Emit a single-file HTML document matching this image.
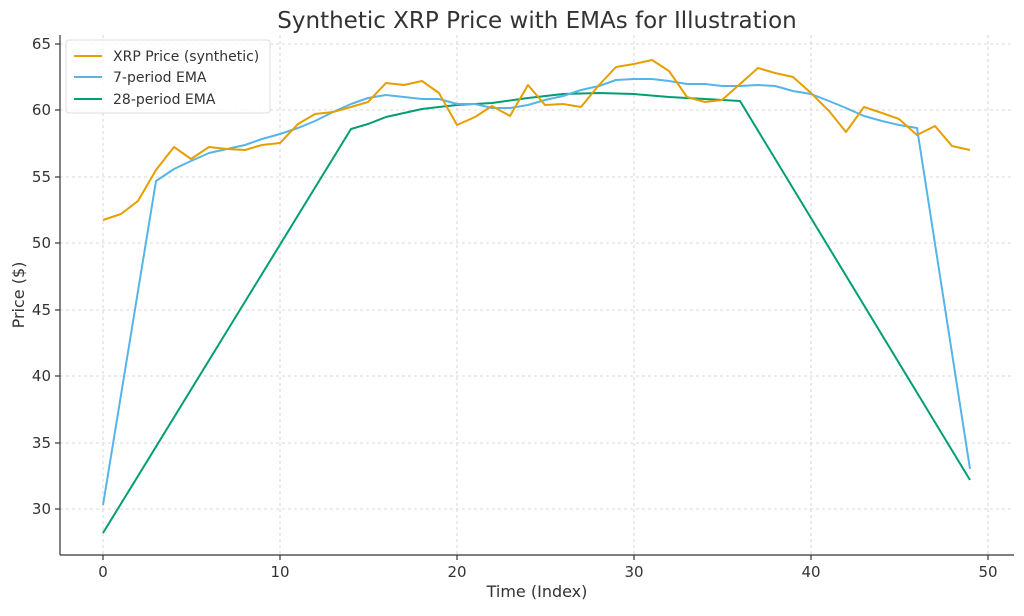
<!DOCTYPE html>
<html><head><meta charset="utf-8"><style>body{margin:0;background:#fff}svg text{font-family:"DejaVu Sans","Liberation Sans",sans-serif;fill:#333}</style></head><body>
<svg width="1024" height="611" xmlns="http://www.w3.org/2000/svg">
<rect width="1024" height="611" fill="#fff"/>
<g stroke="#ccc" stroke-dasharray="3,3" stroke-width="0.8">
<line x1="103" y1="35" x2="103" y2="555"/><line x1="280" y1="35" x2="280" y2="555"/><line x1="457" y1="35" x2="457" y2="555"/><line x1="634" y1="35" x2="634" y2="555"/><line x1="811" y1="35" x2="811" y2="555"/><line x1="988" y1="35" x2="988" y2="555"/>
<line x1="60" y1="44" x2="1014" y2="44"/><line x1="60" y1="110" x2="1014" y2="110"/><line x1="60" y1="177" x2="1014" y2="177"/><line x1="60" y1="243" x2="1014" y2="243"/><line x1="60" y1="310" x2="1014" y2="310"/><line x1="60" y1="376" x2="1014" y2="376"/><line x1="60" y1="443" x2="1014" y2="443"/><line x1="60" y1="509" x2="1014" y2="509"/>
</g>
<g stroke="#333" stroke-width="1.2"><line x1="60" y1="35" x2="60" y2="555"/><line x1="60" y1="555" x2="1014" y2="555"/>
<line x1="103" y1="555" x2="103" y2="560"/><line x1="280" y1="555" x2="280" y2="560"/><line x1="457" y1="555" x2="457" y2="560"/><line x1="634" y1="555" x2="634" y2="560"/><line x1="811" y1="555" x2="811" y2="560"/><line x1="988" y1="555" x2="988" y2="560"/>
<line x1="55" y1="44" x2="60" y2="44"/><line x1="55" y1="110" x2="60" y2="110"/><line x1="55" y1="177" x2="60" y2="177"/><line x1="55" y1="243" x2="60" y2="243"/><line x1="55" y1="310" x2="60" y2="310"/><line x1="55" y1="376" x2="60" y2="376"/><line x1="55" y1="443" x2="60" y2="443"/><line x1="55" y1="509" x2="60" y2="509"/></g>
<g font-size="15" text-anchor="middle"><text x="103" y="577">0</text><text x="280" y="577">10</text><text x="457" y="577">20</text><text x="634" y="577">30</text><text x="811" y="577">40</text><text x="988" y="577">50</text></g>
<g font-size="15" text-anchor="end"><text x="51" y="49">65</text><text x="51" y="115">60</text><text x="51" y="182">55</text><text x="51" y="248">50</text><text x="51" y="315">45</text><text x="51" y="381">40</text><text x="51" y="448">35</text><text x="51" y="514">30</text></g>
<text x="537" y="597" font-size="16" text-anchor="middle">Time (Index)</text>
<text x="24" y="295" font-size="16" text-anchor="middle" transform="rotate(-90 24 295)">Price ($)</text>
<text x="537" y="28" font-size="23" text-anchor="middle">Synthetic XRP Price with EMAs for Illustration</text>
<g fill="none" stroke-width="2" stroke-linejoin="round">
<polyline stroke="#009e73" points="103,533 351,129 368,124 386,117 404,113 422,109 439,107 457,105 492,103 528,98 563,94 599,93 634,94 669,97 705,99 740,101 970,480"/>
<polyline stroke="#56b4e9" points="103,505 156,181 174,169 191,161 209,153 227,149 245,145 262,139 280,134 298,128 315,121 333,112 351,104 368,98 386,95 404,97 422,99 439,99 457,104 475,104 492,108 510,108 528,105 545,100 563,96 581,90 599,86 616,80 634,79 652,79 669,81 687,84 705,84 722,86 740,86 758,85 775,86 793,91 811,94 829,101 846,108 864,116 882,121 899,125 917,128 970,469"/>
<polyline stroke="#e69f00" points="103,220 121,214 138,201 156,170 174,147 191,159 209,147 227,149 245,150 262,145 280,143 298,124 315,114 333,112 351,107 368,102 386,83 404,85 422,81 439,93 457,125 475,117 492,106 510,116 528,85 545,105 563,104 581,107 599,85 616,67 634,64 652,60 669,71 687,97 705,102 722,100 740,84 758,68 775,73 793,77 811,93 829,111 846,132 864,107 882,113 899,119 917,135 935,126 952,146 970,150"/>
</g>
<rect x="66" y="40" width="204" height="73" rx="3" fill="#fff" fill-opacity="0.85" stroke="#ddd"/>
<g stroke-width="2"><line x1="74" y1="56" x2="102" y2="56" stroke="#e69f00"/><line x1="74" y1="77" x2="102" y2="77" stroke="#56b4e9"/><line x1="74" y1="99" x2="102" y2="99" stroke="#009e73"/></g>
<g font-size="14"><text x="113" y="61">XRP Price (synthetic)</text><text x="113" y="82">7-period EMA</text><text x="113" y="104">28-period EMA</text></g>
</svg>
</body></html>
